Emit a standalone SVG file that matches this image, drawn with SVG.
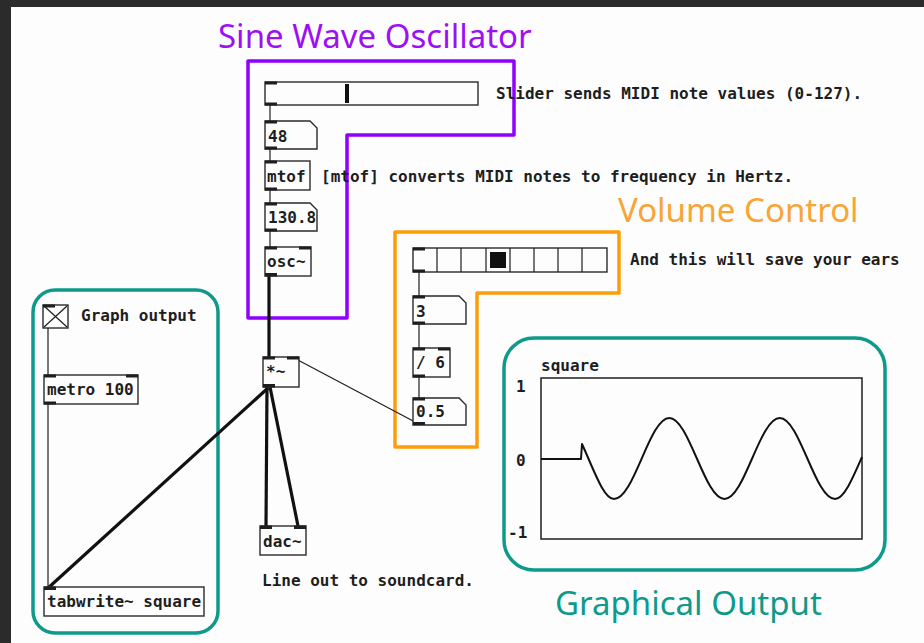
<svg xmlns="http://www.w3.org/2000/svg" width="924" height="643" viewBox="0 0 924 643">
<style>
.bg{fill:#fdfdfd}
.box{fill:#fdfdfd;stroke:#2a2a2a;stroke-width:1.4}
.io{fill:#1e1e1e}
.t{font-family:"DejaVu Sans Mono","Liberation Mono",monospace;font-weight:bold;font-size:16px;fill:#1e1e1e}
.title{font-family:"Noto Sans","Open Sans",sans-serif;font-size:33px}
.ctl{stroke:#1e1e1e;stroke-width:1.2;fill:none}
.sig{stroke:#111;stroke-width:3.2;fill:none}
.frame{fill:none;stroke-width:3.5;stroke-linejoin:round}
</style>
<rect class="bg" x="0" y="0" width="924" height="643"/>
<rect x="0" y="0" width="924" height="7" fill="#2b2b2b"/>
<rect x="0" y="0" width="11" height="643" fill="#2b2b2b"/>

<g id="frames">
<path class="frame" stroke="#9000ff" d="M248,61 H514 V135 H347 V318 H248 Z"/>
<path class="frame" stroke="#ff9c0a" d="M395,232 H619 V293 H477 V447 H395 Z"/>
<rect class="frame" stroke="#0e9a8b" x="33" y="290" width="185" height="343" rx="22"/>
<rect class="frame" stroke="#0e9a8b" x="504" y="338" width="381" height="232" rx="30"/>
<text class="title" x="218" y="48" fill="#9d10f5">Sine Wave Oscillator</text>
<text class="title" x="618" y="222" fill="#f8a535">Volume Control</text>
<text class="title" x="555" y="615" fill="#0e9a8b">Graphical Output</text>
</g>

<g id="connectors">
<line class="ctl" x1="270" y1="105" x2="270" y2="121"/>
<line class="ctl" x1="270" y1="149" x2="270" y2="161"/>
<line class="ctl" x1="270" y1="190" x2="270" y2="203"/>
<line class="ctl" x1="270" y1="231" x2="270" y2="247"/>
<line class="ctl" x1="419" y1="272" x2="419" y2="296"/>
<line class="ctl" x1="419" y1="324" x2="419" y2="348"/>
<line class="ctl" x1="419" y1="377" x2="419" y2="398"/>
<line class="ctl" x1="415" y1="422" x2="296" y2="359"/>
<line class="ctl" x1="48" y1="328" x2="48" y2="375"/>
<line class="ctl" x1="48" y1="404" x2="48" y2="587"/>
<line class="sig" x1="269" y1="276" x2="269" y2="357"/>
<line class="sig" x1="267" y1="387" x2="266" y2="526"/>
<line class="sig" x1="270" y1="387" x2="298" y2="526"/>
<line class="sig" x1="268" y1="388" x2="47" y2="589"/>
</g>

<g id="slider">
<rect class="box" x="265" y="82" width="213" height="23"/>
<rect class="io" x="265" y="81.5" width="12" height="3"/>
<rect class="io" x="265" y="102.5" width="12" height="3"/>
<rect x="345" y="84" width="4" height="19" fill="#111"/>
<text class="t" x="496" y="99">Slider sends MIDI note values (0-127).</text>
</g>

<g id="num48">
<path class="box" d="M265,121 H310 L317,128 V149 H265 Z"/>
<rect class="io" x="265" y="120.5" width="12" height="3"/>
<rect class="io" x="265" y="146.5" width="12" height="3"/>
<text class="t" x="268" y="142">48</text>
</g>

<g id="mtof">
<rect class="box" x="265" y="161" width="45" height="29"/>
<rect class="io" x="265" y="160.5" width="12" height="3"/>
<rect class="io" x="265" y="187.5" width="12" height="3"/>
<text class="t" x="267" y="182">mtof</text>
<text class="t" x="321" y="182">[mtof] converts MIDI notes to frequency in Hertz.</text>
</g>

<g id="num130">
<path class="box" d="M265,203 H310 L317,210 V231 H265 Z"/>
<rect class="io" x="265" y="202.5" width="12" height="3"/>
<rect class="io" x="265" y="228.5" width="12" height="3"/>
<text class="t" x="268" y="223">130.8</text>
</g>

<g id="osc">
<rect class="box" x="265" y="247" width="46" height="29"/>
<rect class="io" x="265" y="246.5" width="12" height="3"/>
<rect class="io" x="299" y="246.5" width="12" height="3"/>
<rect class="io" x="265" y="273" width="12" height="3.5"/>
<text class="t" x="267" y="267">osc~</text>
</g>

<g id="mul">
<rect class="box" x="263" y="357" width="36" height="30"/>
<rect class="io" x="263" y="356.5" width="12" height="3"/>
<rect class="io" x="287" y="356.5" width="12" height="3"/>
<rect class="io" x="263" y="384" width="12" height="3.5"/>
<text class="t" x="266" y="377" font-size="13">*~</text>
</g>

<g id="dac">
<rect class="box" x="260" y="526" width="46" height="29"/>
<rect class="io" x="260" y="525.5" width="12" height="3.5"/>
<rect class="io" x="294" y="525.5" width="12" height="3.5"/>
<text class="t" x="263" y="547">dac~</text>
<text class="t" x="262" y="586">Line out to soundcard.</text>
</g>

<g id="radio">
<rect class="box" x="413" y="248" width="194" height="24"/>
<path class="ctl" stroke-width="1.4" d="M437,248 V272 M461,248 V272 M486,248 V272 M510,248 V272 M534,248 V272 M558,248 V272 M582,248 V272"/>
<rect x="490" y="252" width="16" height="16" fill="#111"/>
<rect class="io" x="413" y="247.5" width="12" height="3"/>
<rect class="io" x="413" y="269.5" width="12" height="3"/>
<text class="t" x="630" y="265">And this will save your ears</text>
</g>

<g id="num3">
<path class="box" d="M413,296 H459 L466,303 V324 H413 Z"/>
<rect class="io" x="413" y="295.5" width="12" height="3"/>
<rect class="io" x="413" y="321.5" width="12" height="3"/>
<text class="t" x="416" y="317">3</text>
</g>

<g id="div6">
<rect class="box" x="413" y="348" width="37" height="29"/>
<rect class="io" x="413" y="347.5" width="12" height="3"/>
<rect class="io" x="438" y="347.5" width="12" height="3"/>
<rect class="io" x="413" y="374.5" width="12" height="3"/>
<text class="t" x="416" y="368">/ 6</text>
</g>

<g id="num05">
<path class="box" d="M413,398 H459 L466,405 V425 H413 Z"/>
<rect class="io" x="413" y="397.5" width="12" height="3"/>
<rect class="io" x="413" y="422" width="12" height="3"/>
<text class="t" x="416" y="417">0.5</text>
</g>

<g id="toggle">
<rect class="box" x="43" y="305" width="25" height="23"/>
<path class="ctl" d="M44,306 L67,327 M67,306 L44,327"/>
<rect class="io" x="43" y="304.5" width="12" height="3"/>
<text class="t" x="81" y="321">Graph output</text>
</g>

<g id="metro">
<rect class="box" x="44" y="375" width="94" height="29"/>
<rect class="io" x="44" y="374.5" width="12" height="3"/>
<rect class="io" x="126" y="374.5" width="12" height="3"/>
<rect class="io" x="44" y="401.5" width="12" height="3"/>
<text class="t" x="47" y="395">metro 100</text>
</g>

<g id="tabwrite">
<rect class="box" x="44" y="587" width="160" height="29"/>
<rect class="io" x="44" y="586.5" width="12" height="3.5"/>
<text class="t" x="47" y="607">tabwrite~ square</text>
</g>

<g id="graph">
<text class="t" x="541" y="371">square</text>
<rect x="541" y="378" width="321" height="161" fill="#fdfdfd" stroke="#1e1e1e" stroke-width="1.5"/>
<text class="t" x="516" y="392">1</text>
<text class="t" x="516" y="466">0</text>
<text class="t" x="508" y="538">-1</text>
<path fill="none" stroke="#111" stroke-width="2" stroke-linejoin="round" d="M541,459 H581 L582,444 C592.7,467 603.3,499 614,499 C634.08,499 649.42,418 669.25,418 C689.33,418 704.42,499 724.5,499 C744.58,499 759.67,418 779.75,418 C799.83,418 814.92,499 835,499 C844,499 853,477.7 862,457"/>
</g>
</svg>
